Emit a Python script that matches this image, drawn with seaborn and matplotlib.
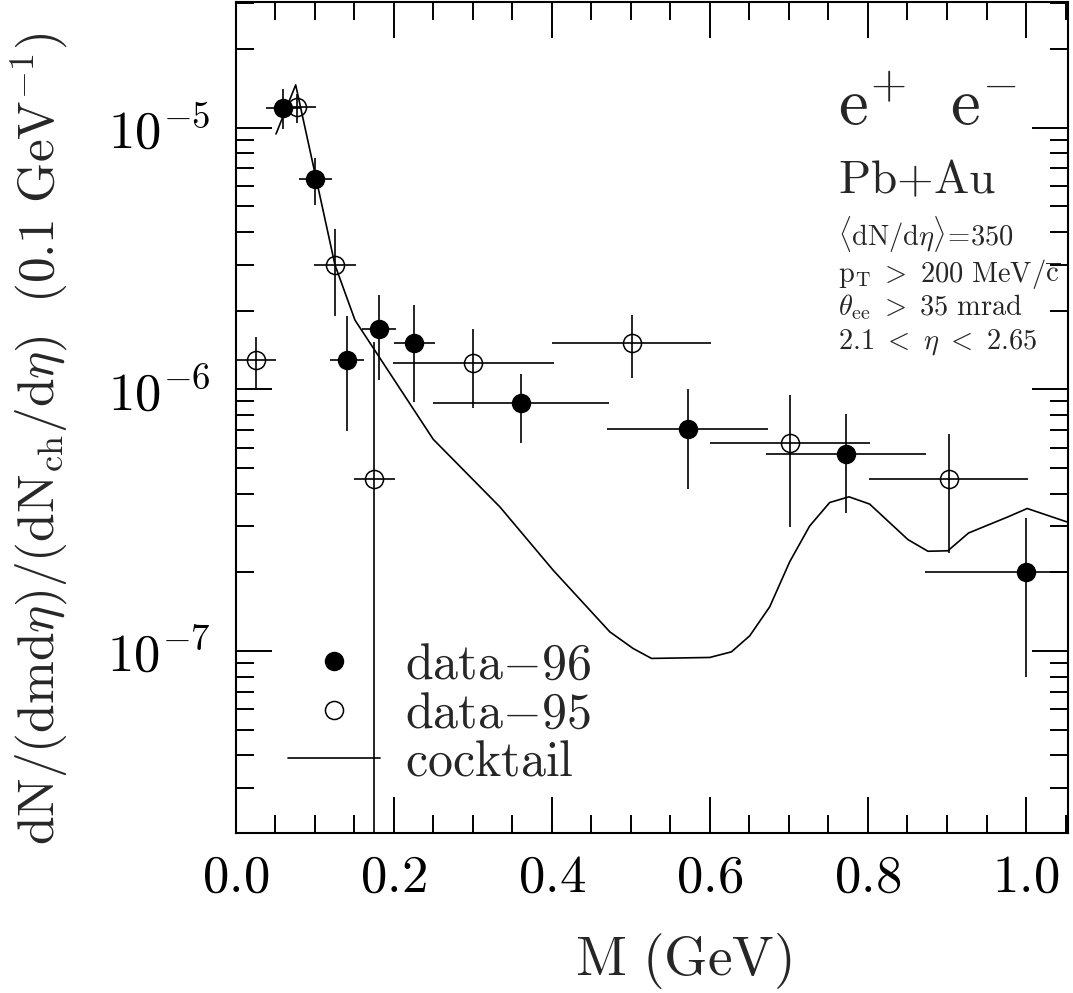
"""
Pb+Au e+e- invariant mass spectrum: data-96, data-95 and hadronic cocktail.
"""

import matplotlib
matplotlib.use('Agg')
import matplotlib.pyplot as plt
import numpy as np
import pandas as pd
import seaborn as sns
from matplotlib.lines import Line2D
from matplotlib.ticker import FuncFormatter, LogLocator, MultipleLocator

# data-96 (filled circles)
m96 = [0.060, 0.101, 0.141, 0.181, 0.226, 0.361, 0.572, 0.772, 1.000]
y96 = [1.19e-5, 6.37e-6, 1.30e-6, 1.70e-6, 1.50e-6, 8.85e-7, 7.08e-7, 5.68e-7, 2.00e-7]
y96_hi = [1.40e-5, 7.68e-6, 1.90e-6, 2.30e-6, 2.10e-6, 1.15e-6, 1.00e-6, 8.03e-7, 3.22e-7]
y96_lo = [0.99e-5, 5.07e-6, 6.95e-7, 1.09e-6, 8.97e-7, 6.26e-7, 4.16e-7, 3.38e-7, 7.96e-8]
dm96 = [0.021, 0.021, 0.021, 0.0215, 0.026, 0.111, 0.1015, 0.101, 0.128]

# data-95 (open circles)
m95 = [0.0255, 0.0774, 0.1258, 0.1755, 0.301, 0.501, 0.701, 0.902]
y95 = [1.30e-6, 1.20e-5, 2.99e-6, 4.53e-7, 1.265e-6, 1.51e-6, 6.22e-7, 4.54e-7]
y95_hi = [1.59e-6, 1.34e-5, 4.09e-6, 1.52e-6, 1.70e-6, 1.92e-6, 9.52e-7, 6.75e-7]
y95_lo = [1.00e-6, 1.04e-5, 1.90e-6, 1e-12, 8.47e-7, 1.11e-6, 2.99e-7, 2.37e-7]
dm95 = [0.026, 0.024, 0.0265, 0.026, 0.1015, 0.101, 0.101, 0.101]

# cocktail
m_cock = [0.0512, 0.0761, 0.1258, 0.1511, 0.2501, 0.3344, 0.4018, 0.4735, 0.5029,
          0.5262, 0.5999, 0.6273, 0.6504, 0.6757, 0.7010, 0.7263, 0.7516, 0.7760,
          0.8021, 0.8506, 0.8759, 0.9011, 0.9273, 0.9770, 1.0015, 1.0516]
y_cock = [9.46e-6, 1.456e-5, 2.99e-6, 1.84e-6, 6.45e-7, 3.56e-7, 2.04e-7, 1.186e-7, 1.025e-7,
          9.39e-8, 9.47e-8, 9.95e-8, 1.145e-7, 1.478e-7, 2.196e-7, 3.01e-7, 3.70e-7, 3.89e-7,
          3.65e-7, 2.67e-7, 2.41e-7, 2.42e-7, 2.83e-7, 3.26e-7, 3.51e-7, 3.12e-7]

info_lines = [r'$\langle\mathrm{dN/d}\eta\rangle\!=\!\mathrm{350}$',
              r'$\mathrm{p_T\ >\ 200\ MeV/\overline{c}}$',
              r'$\theta_{\mathrm{ee}}\ >\ \mathrm{35\ mrad}$',
              r'$\mathrm{2.1\ <\ }\eta\mathrm{\ <\ 2.65}$']
legend_labels = [r'$\mathrm{data{-}96}$', r'$\mathrm{data{-}95}$', r'$\mathrm{cocktail}$']

sns.set_style('ticks')
plt.rcParams['mathtext.fontset'] = 'cm'
plt.rcParams['font.family'] = ['DejaVu Serif']


def asym(y, lo, hi):
    y = np.asarray(y)
    return np.vstack([y - np.asarray(lo), np.asarray(hi) - y])


fig = plt.figure(figsize=(10.73, 9.93), dpi=100)
ax = fig.add_axes([0.2195, 0.161, 0.7758, 0.837])

cock = pd.DataFrame({'m': m_cock, 'y': y_cock})
sns.lineplot(data=cock, x='m', y='y', ax=ax, color='black', lw=1.2,
             sort=False, estimator=None)

ax.errorbar(m96, y96, xerr=dm96, yerr=asym(y96, y96_lo, y96_hi), fmt='o',
            color='black', ms=13, lw=1.2, capsize=0, zorder=3)
ax.errorbar(m95, y95, xerr=dm95, yerr=asym(y95, y95_lo, y95_hi), fmt='o',
            color='black', mfc='none', mew=1.1, ms=13, lw=1.2, capsize=0, zorder=3)

ax.set_yscale('log')
ax.set_xlim(0, 1.053)
ax.set_ylim(2.02e-8, 3.02e-5)

# ticks inward on all four sides
ax.xaxis.set_major_locator(MultipleLocator(0.2))
ax.xaxis.set_minor_locator(MultipleLocator(0.05))
ax.yaxis.set_major_locator(LogLocator(base=10))
ax.yaxis.set_minor_locator(LogLocator(base=10, subs=np.arange(2, 10)))
ax.tick_params(which='both', direction='in', top=True, right=True, colors='black')
ax.tick_params(which='major', length=26, width=1.4)
ax.tick_params(which='minor', length=13, width=1.4)
ax.tick_params(axis='x', which='major', labelsize=38, pad=13)
ax.tick_params(axis='y', which='major', labelsize=38, pad=18)
ax.xaxis.set_major_formatter(FuncFormatter(lambda v, p: rf'$\mathrm{{{v:.1f}}}$'))
ax.yaxis.set_major_formatter(
    FuncFormatter(lambda v, p: rf'$\mathrm{{10^{{{int(round(np.log10(v)))}}}}}$'))
for sp in ax.spines.values():
    sp.set_linewidth(1.5)
    sp.set_color('black')

ax.set_xlabel(r'$\mathrm{M\ (GeV)}$', fontsize=40)
ax.xaxis.set_label_coords(0.5375, -0.118)
ax.set_ylabel(r'$\mathrm{dN/(dmd}\eta\mathrm{)/(dN_{ch}/d}\eta\mathrm{)\ \ (0.1\ GeV^{-1})}$',
              fontsize=37)
ax.yaxis.set_label_coords(-0.2, 0.475)

# annotations
ax.text(0.7237, 0.852, r'$\mathrm{e^{+}\ \ e^{-}}$', transform=ax.transAxes,
        fontsize=48, va='baseline', ha='left')
ax.text(0.7237, 0.770, r'$\mathrm{Pb{+}Au}$', transform=ax.transAxes,
        fontsize=34, va='baseline', ha='left')
for yy, txt in zip([0.706, 0.663, 0.623, 0.583], info_lines):
    ax.text(0.7237, yy, txt, transform=ax.transAxes, fontsize=20.5,
            va='baseline', ha='left')

handles = [Line2D([], [], ls='none', marker='o', ms=13, color='black'),
           Line2D([], [], ls='none', marker='o', ms=13, mfc='none', mew=1.1, color='black'),
           Line2D([], [], color='black', lw=1.2)]
ax.legend(handles, legend_labels, loc='upper left', bbox_to_anchor=(0.063, 0.232),
          frameon=False, fontsize=36, handlelength=1.85, handletextpad=0.5,
          labelspacing=-0.02, borderpad=0, borderaxespad=0)

fig.savefig('out.png', dpi=100)
